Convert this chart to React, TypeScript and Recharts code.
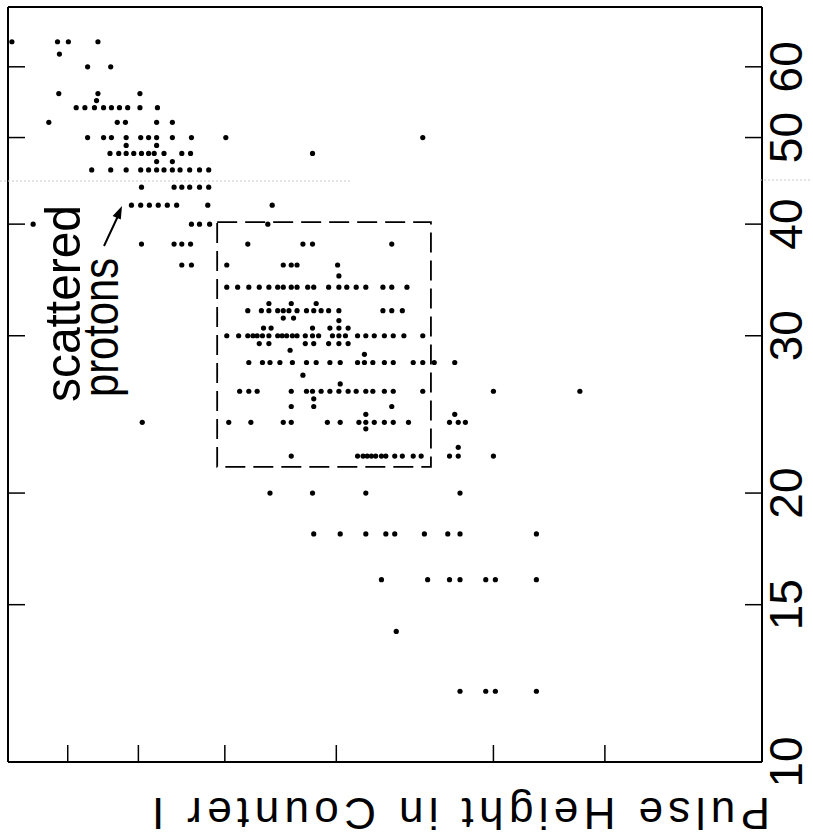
import { ReferenceArea, Scatter, ScatterChart, XAxis, YAxis } from "recharts";

const tickValues = [10, 15, 20, 30, 40, 50, 60];
const axisDomain: [number, number] = [10, 70];

// [vertical pulse height, horizontal pulse heights of the dots in that row]
const protonRows: [number, number[]][] = [
  [64, [69.3, 61.6, 59.9, 55.5]],
  [62, [61.3]],
  [60, [57.0, 53.7]],
  [56, [61.4, 55.5, 49.8]],
  [55, [55.7]],
  [54, [58.7, 57.4, 56.0, 54.7, 53.6, 52.5, 51.4, 49.8, 47.6]],
  [52, [63.0, 52.8, 51.7, 47.7, 45.8]],
  [50, [57.0, 54.7, 53.6, 51.6, 49.7, 48.7, 47.7, 45.8, 43.6, 39.9, 24.0]],
  [49, [51.6, 47.7]],
  [48, [53.8, 52.6, 51.6, 50.6, 49.6, 48.7, 48.0, 46.8, 44.7, 43.7, 31.9]],
  [47, [47.7, 45.8]],
  [46, [56.4, 53.7, 51.6, 49.7, 48.7, 47.7, 46.8, 45.8, 44.9, 43.8, 42.7, 41.7]],
  [44, [49.6, 45.6, 44.7, 43.8, 42.7, 41.7]],
  [42, [50.9, 49.7, 48.6, 47.5, 46.4, 45.3, 41.8, 35.4]],
  [40, [65.6, 43.6, 42.7, 41.6, 35.8]],
];

const boxRows: [number, number[]][] = [
  [38, [49.6, 45.6, 44.7, 43.7, 37.7, 32.7, 31.9, 26.0]],
  [36, [44.7, 43.6, 39.8, 34.4, 33.7, 33.2, 29.9]],
  [35, [29.8]],
  [34, [39.8, 38.7, 37.6, 36.6, 35.7, 34.9, 34.4, 33.7, 33.2, 32.3, 31.8, 30.6, 29.8, 29.2, 28.5, 27.8, 26.6, 26.0, 25.0]],
  [32.6, [35.7, 33.7, 31.6]],
  [32, [37.7, 36.4, 35.7, 34.9, 34.4, 33.9, 33.2, 32.4, 31.8, 31.2, 30.6, 29.8, 26.6, 26.0, 25.3]],
  [31.4, [34.4, 33.5]],
  [31.2, [29.8]],
  [30.6, [36.2, 35.5, 31.9, 30.5, 29.8, 29.1]],
  [30, [39.8, 38.6, 37.7, 37.2, 36.8, 36.3, 35.7, 34.9, 34.5, 34.1, 33.6, 33.2, 32.5, 31.9, 31.4, 30.3, 29.8, 29.3, 28.4, 27.8, 27.2, 26.5, 25.9, 25.2, 24.0]],
  [29.4, [36.6, 35.7, 32.5, 31.8, 30.6, 29.8, 29.1]],
  [28.9, [33.8]],
  [28.6, [27.9]],
  [28, [37.6, 36.3, 35.6, 34.7, 33.6, 32.4, 31.6, 30.5, 29.7, 28.4, 27.9, 27.3, 26.5, 25.9, 24.6, 24.0, 23.3, 22.1]],
  [27.1, [32.7]],
  [26.5, [29.7]],
  [26, [38.5, 37.6, 36.8, 33.7, 32.4, 31.9, 31.2, 30.5, 29.8, 29.1, 28.5, 27.8, 27.3, 26.5, 25.9, 24.0, 20.0, 16.0]],
  [25.5, [31.8]],
  [25, [33.7, 31.8, 26.0]],
  [24.5, [27.8, 22.1]],
  [24, [49.5, 39.6, 37.4, 34.4, 33.7, 30.7, 29.7, 28.3, 27.8, 27.2, 26.5, 25.9, 24.9, 22.4, 21.9, 21.5]],
  [23.6, [27.8]],
  [22.5, [21.9]],
  [22, [33.7, 28.4, 28.0, 27.7, 27.4, 27.1, 26.7, 26.4, 25.8, 25.3, 24.6, 24.1, 22.4, 21.9, 20.0]],
];

const lowRows: [number, number[]][] = [
  [20, [35.6, 31.9, 27.8, 21.8]],
  [18, [31.8, 29.7, 27.8, 26.4, 25.8, 23.9, 22.5, 21.8, 17.9]],
  [16, [26.7, 23.7, 22.4, 21.8, 20.4, 19.9, 17.9]],
  [14, [25.7]],
  [12, [21.8, 20.4, 19.9, 17.9]],
];

// dashed selection box: horizontal 23.5..40.8, vertical 21.4..40.2
const boxX = [23.5, 40.8];
const boxY = [21.4, 40.2];

const toPoints = (rows: [number, number[]][]) =>
  rows.flatMap(([y, xs]) => xs.map((x) => ({ x, y })));

const points = [...toPoints(protonRows), ...toPoints(boxRows), ...toPoints(lowRows)];

const font = "'Liberation Sans', Arial, sans-serif";

const Dot = (props: any) => <circle cx={props.cx} cy={props.cy} r={2.6} fill="#000" />;

const NoLabel = () => <g />;

const RightTick = (props: any) => {
  const { y, payload } = props;
  return (
    <text
      x={0}
      y={0}
      transform={`translate(802 ${y}) rotate(-90)`}
      textAnchor="middle"
      fontSize={46}
      fontFamily={font}
      fill="#000"
    >
      {payload.value}
    </text>
  );
};

const axisCommon = {
  type: "number" as const,
  scale: "log" as const,
  domain: axisDomain,
  allowDataOverflow: true,
  ticks: tickValues,
  interval: 0 as const,
  tickSize: -17,
  stroke: "#000",
  axisLine: { stroke: "#000", strokeWidth: 2 },
  tickLine: { stroke: "#000", strokeWidth: 1.5 },
};

export default function App() {
  return (
    <div style={{ position: "absolute", left: 0, top: 0, width: 813, height: 839, background: "#fff" }}>
      <ScatterChart width={813} height={839} margin={{ top: 6, right: 50, bottom: 76, left: 7 }}>
        <XAxis {...axisCommon} xAxisId="b" dataKey="x" orientation="bottom" reversed height={1} tick={NoLabel} />
        <XAxis {...axisCommon} xAxisId="t" orientation="top" reversed height={1} tick={NoLabel} />
        <YAxis {...axisCommon} yAxisId="l" dataKey="y" orientation="left" width={1} tick={NoLabel} />
        <YAxis {...axisCommon} yAxisId="r" orientation="right" width={1} tick={RightTick} />
        <ReferenceArea
          xAxisId="b"
          yAxisId="l"
          x1={boxX[0]}
          x2={boxX[1]}
          y1={boxY[0]}
          y2={boxY[1]}
          fill="none"
          fillOpacity={0}
          stroke="#000"
          strokeWidth={1.8}
          strokeDasharray="20 8"
        />
        <Scatter xAxisId="b" yAxisId="l" data={points} shape={Dot} isAnimationActive={false} />
      </ScatterChart>
      <svg
        width={813}
        height={839}
        style={{ position: "absolute", left: 0, top: 0, pointerEvents: "none" }}
      >
        <line x1={0} y1={181} x2={352} y2={181} stroke="#c8c8c8" strokeWidth={1} strokeDasharray="2 2" />
        <line x1={760} y1={180} x2={810} y2={180} stroke="#c8c8c8" strokeWidth={1} strokeDasharray="2 2" />
        <text
          transform="translate(80 402) rotate(-90)"
          fontSize={50}
          fontFamily={font}
          textLength={197}
          lengthAdjust="spacingAndGlyphs"
        >
          scattered
        </text>
        <text
          transform="translate(118 397) rotate(-90)"
          fontSize={50}
          fontFamily={font}
          textLength={139}
          lengthAdjust="spacingAndGlyphs"
        >
          protons
        </text>
        <line x1={104} y1={246} x2={118} y2={216} stroke="#000" strokeWidth={2} />
        <polygon points="122,206 120.8,219.6 112.6,216" fill="#000" />
        <text
          transform="translate(461 798) rotate(180)"
          textAnchor="middle"
          fontSize={44}
          fontFamily={font}
          textLength={618}
          lengthAdjust="spacing"
        >
          Pulse Height in Counter I
        </text>
      </svg>
    </div>
  );
}
